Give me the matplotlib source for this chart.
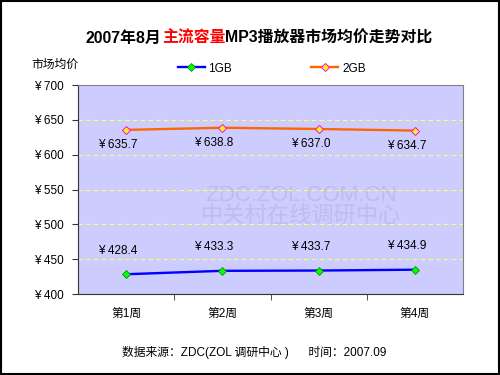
import matplotlib
matplotlib.use('Agg')
import matplotlib.pyplot as plt
from matplotlib.patches import Rectangle

plt.rcParams['font.family'] = ['Liberation Sans', 'Noto Sans CJK SC', 'DejaVu Sans']

weeks = ['第1周', '第2周', '第3周', '第4周']
price_1gb = [428.4, 433.3, 433.7, 434.9]
price_2gb = [635.7, 638.8, 637.0, 634.7]
yticks = [400, 450, 500, 550, 600, 650, 700]

fig = plt.figure(figsize=(5, 3.75), dpi=100)
fig.patch.set_facecolor('white')
# black frame round the whole picture
fig.patches.append(Rectangle((0.002, 0.003), 0.995, 0.994, transform=fig.transFigure,
                             fill=False, edgecolor='black', linewidth=1.5))

ax = fig.add_axes([0.156, 0.216, 0.77, 0.557])
ax.set_facecolor('#CCCCFF')
x = list(range(len(weeks)))

# watermark
ax.text(0.58, 0.47, 'ZDC.ZOL.COM.CN', transform=ax.transAxes, ha='center', va='center',
        fontsize=16, color='#BDBDEA', zorder=0)
ax.text(0.58, 0.37, '中关村在线调研中心', transform=ax.transAxes, ha='center', va='center',
        fontsize=16, color='#BDBDEA', zorder=0)

for y in yticks[1:-1]:
    ax.axhline(y, color='#FFFF66', linestyle=(0, (4, 3)), linewidth=0.8, zorder=1)

ax.plot(x, price_1gb, color='#0000FF', linewidth=1.7, marker='D', markersize=4.5,
        markerfacecolor='#00FF00', markeredgecolor='#008000', markeredgewidth=0.5,
        label='1GB', zorder=3)
ax.plot(x, price_2gb, color='#FF6600', linewidth=1.7, marker='D', markersize=4.5,
        markerfacecolor='#FFFF00', markeredgecolor='#FF00FF', markeredgewidth=0.7,
        label='2GB', zorder=3)

for xi, v in zip(x, price_1gb):
    ax.annotate('¥ %.1f' % v, (xi, v), xytext=(-6, 17), textcoords='offset points',
                ha='center', va='center', fontsize=8.5)
for xi, v in zip(x, price_2gb):
    ax.annotate('¥ %.1f' % v, (xi, v), xytext=(-6, -11), textcoords='offset points',
                ha='center', va='center', fontsize=8.5)

ax.set_xlim(-0.5, 3.5)
ax.set_ylim(400, 700)
ax.set_yticks(yticks)
ax.set_yticklabels(['¥ %d' % t for t in yticks], fontsize=8.5)
ax.set_xticks(x)
ax.set_xticklabels(weeks, fontsize=8.5)
ax.tick_params(axis='x', length=0, pad=10)
ax.set_xticks([0.5, 1.5, 2.5], minor=True)
ax.tick_params(axis='x', which='minor', length=4, color='#333333', direction='out')
ax.tick_params(axis='y', length=4, color='#333333', pad=6)
for s in ax.spines.values():
    s.set_color('#808080')
ax.spines['left'].set_color('#333333')
ax.spines['bottom'].set_color('#333333')

ax.legend(loc='lower center', bbox_to_anchor=(0.503, 1.0), ncol=2, frameon=False,
          fontsize=8.5, handlelength=2.3, columnspacing=6.7, handletextpad=0.3)

fig.text(0.062, 0.827, '市场均价', fontsize=8.5, ha='left', va='center')

# title with red middle part
t1 = fig.text(0.172, 0.898, '2007年8月', fontsize=11.4, fontweight='bold', ha='left', va='center')
t2 = fig.text(0, 0, '主流容量', fontsize=11.4, fontweight='bold', color='#FF0000', ha='left', va='center')
t3 = fig.text(0, 0, 'MP3播放器市场均价走势对比', fontsize=11.4, fontweight='bold', ha='left', va='center')
fig.canvas.draw()
r = fig.canvas.get_renderer()
inv = fig.transFigure.inverted()
b1 = t1.get_window_extent(r)
t2.set_position((inv.transform((b1.x1, 0))[0], 0.898))
b2 = t2.get_window_extent(r)
t3.set_position((inv.transform((b2.x1, 0))[0], 0.898))

fig.text(0.508, 0.059, '数据来源：ZDC(ZOL 调研中心 )      时间：2007.09', fontsize=8.5,
         ha='center', va='center')

fig.savefig('out.png', dpi=100)
